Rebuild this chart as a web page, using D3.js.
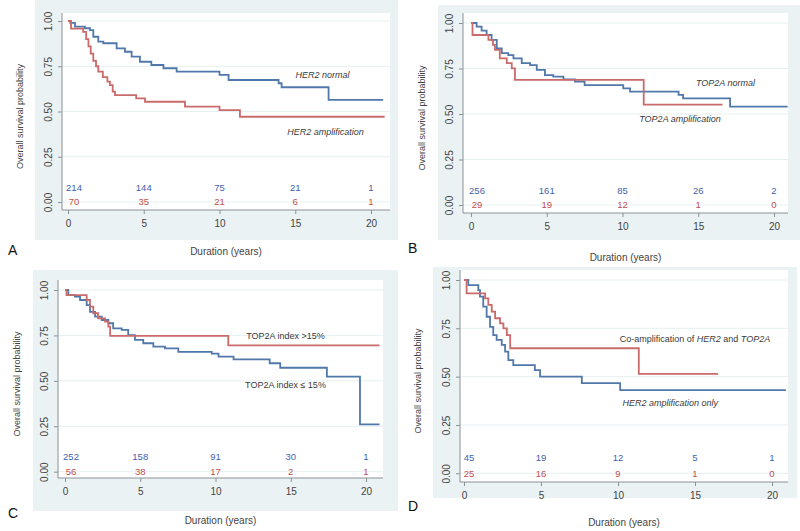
<!DOCTYPE html>
<html>
<head>
<meta charset="utf-8">
<script src="https://cdnjs.cloudflare.com/ajax/libs/d3/7.8.5/d3.min.js"></script>
<style>
  body { margin: 0; background: #fff; }
  svg { display: block; font-family: "Liberation Sans", Arial, sans-serif; }
</style>
</head>
<body>
<div id="chart"></div>
<script>
// Kaplan-Meier curves, [time (years), survival after that time]
var herNormal = [[0,1],[0.15,0.99],[0.46,0.969],[1.12,0.96],[1.45,0.95],[1.67,0.913],[2.0,0.886],[2.33,0.877],[3.21,0.849],[3.76,0.83],[4.2,0.803],[4.75,0.775],[5.5,0.757],[6.3,0.739],[7.17,0.72],[10.0,0.702],[10.6,0.674],[13.9,0.656],[14.1,0.634],[17.2,0.564],[20.8,0.564]];
var herAmp = [[0,1],[0.2,0.958],[1.0,0.94],[1.2,0.9],[1.35,0.86],[1.5,0.82],[1.67,0.78],[1.85,0.75],[2.0,0.72],[2.3,0.69],[2.6,0.665],[2.77,0.646],[2.95,0.61],[3.1,0.59],[4.5,0.572],[5.08,0.554],[7.72,0.527],[10.0,0.508],[11.35,0.471],[20.9,0.471]];

var top2aNormal = [[0,1],[0.37,0.98],[0.7,0.958],[1.03,0.934],[1.36,0.907],[1.7,0.861],[2.03,0.834],[2.46,0.824],[2.8,0.806],[3.35,0.779],[3.9,0.769],[4.34,0.742],[4.88,0.714],[5.43,0.705],[6.1,0.69],[6.86,0.678],[7.5,0.659],[10.05,0.641],[10.5,0.623],[13.7,0.605],[14.0,0.586],[17.1,0.54],[20.9,0.54]];
var top2aAmp = [[0,1],[0.1,0.934],[1.15,0.907],[1.45,0.88],[1.58,0.852],[1.9,0.806],[2.36,0.779],[2.69,0.751],[2.9,0.687],[11.4,0.552],[16.6,0.552]];

var top2aLow = [[0,1],[0.22,0.972],[0.66,0.963],[1.0,0.945],[1.44,0.917],[1.66,0.88],[2.0,0.853],[2.44,0.835],[2.88,0.817],[3.2,0.789],[3.77,0.78],[4.2,0.752],[4.65,0.725],[5.2,0.707],[5.87,0.688],[6.64,0.679],[7.53,0.66],[9.75,0.65],[10.2,0.633],[11.2,0.618],[13.6,0.597],[14.3,0.572],[17.4,0.523],[19.6,0.261],[20.9,0.261]];
var top2aHigh = [[0,1],[0.1,0.972],[1.44,0.945],[1.66,0.908],[1.88,0.872],[2.2,0.844],[2.66,0.826],[2.88,0.798],[3.0,0.748],[10.85,0.695],[20.9,0.695]];

var herOnly = [[0,1],[0.28,0.974],[0.93,0.948],[1.04,0.914],[1.25,0.862],[1.47,0.81],[1.69,0.758],[1.9,0.715],[2.12,0.69],[2.45,0.664],[2.67,0.629],[2.88,0.586],[3.2,0.56],[4.6,0.534],[4.94,0.5],[7.65,0.466],[10.14,0.43],[20.9,0.43]];
var coAmp = [[0,1],[0.17,0.931],[1.37,0.905],[1.58,0.871],[1.8,0.836],[2.02,0.802],[2.34,0.776],[2.56,0.75],[2.78,0.715],[3.0,0.647],[11.35,0.514],[16.5,0.514]];

// Number at risk
var riskTimes = [0, 5, 10, 15, 20];
var riskA = [[214, 144, 75, 21, 1], [70, 35, 21, 6, 1]];
var riskB = [[256, 161, 85, 26, 2], [29, 19, 12, 1, 0]];
var riskC = [[252, 158, 91, 30, 1], [56, 38, 17, 2, 1]];
var riskD = [[45, 19, 12, 5, 1], [25, 16, 9, 1, 0]];

// Axis ticks and titles
var xTicks = [0, 5, 10, 15, 20];
var yTicks = [0, 0.25, 0.5, 0.75, 1];
var xTitle = "Duration (years)";
var yTitle = "Overall survival probability";

// Curve labels (blue curve first, then red): pieces of text, italic or not
var labelsA = [[{t: "HER2 normal", i: true}], [{t: "HER2 amplification", i: true}]];
var labelsB = [[{t: "TOP2A normal", i: true}], [{t: "TOP2A amplification", i: true}]];
var labelsC = [[{t: "TOP2A index \u2264 15%", i: false}], [{t: "TOP2A index >15%", i: false}]];
var labelsD = [[{t: "HER2 amplification only", i: true}],
               [{t: "Co-amplification of ", i: false}, {t: "HER2", i: true}, {t: " and ", i: false}, {t: "TOP2A", i: true}]];

var blue = "#5078ab", red = "#c96a6b";
var blueText = "#3f5fae", redText = "#c0504d";

var svg = d3.select("#chart").append("svg")
  .attr("width", 800)
  .attr("height", 531);

var panels = [
  { letter: "A", bg: [35, 0, 398, 240], plot: [62, 13, 390, 210], x0: 68, x20: 371, y1: 21, y0: 202,
    blueData: herNormal, redData: herAmp, risk: riskA, labels: labelsA,
    labelPos: [[16.8, 0.70], [17.0, 0.387]], riskShift: 6,
    yTitleX: 20, xTitleY: 251, letterPos: [8, 255] },
  { letter: "B", bg: [438, 5, 800, 240], plot: [463, 13, 788, 213], x0: 471, x20: 774, y1: 23, y0: 205,
    blueData: top2aNormal, redData: top2aAmp, risk: riskB, labels: labelsB,
    labelPos: [[16.8, 0.67], [13.8, 0.473]], riskShift: 6,
    yTitleX: 422, xTitleY: 257, letterPos: [408, 253] },
  { letter: "C", bg: [33, 270, 398, 511], plot: [58, 280, 383, 478], x0: 65, x20: 366, y1: 290, y0: 471.7,
    blueData: top2aLow, redData: top2aHigh, risk: riskC, labels: labelsC,
    labelPos: [[14.65, 0.477], [14.65, 0.747]], riskShift: 6,
    yTitleX: 17, xTitleY: 520, letterPos: [8, 518] },
  { letter: "D", bg: [433, 267, 797, 498], plot: [460, 270, 788, 482], x0: 464, x20: 772, y1: 280, y0: 473.3,
    blueData: herOnly, redData: coAmp, risk: riskD, labels: labelsD,
    labelPos: [[13.4, 0.364], [15.0, 0.695]], riskShift: 5,
    yTitleX: 418, xTitleY: 522, letterPos: [408, 511] }
];

panels.forEach(drawPanel);

function drawPanel(p) {
  var x = d3.scaleLinear().domain([0, 20]).range([p.x0, p.x20]);
  var y = d3.scaleLinear().domain([0, 1]).range([p.y0, p.y1]);

  // Graph region and white plot region
  svg.append("rect")
    .attr("x", p.bg[0]).attr("y", p.bg[1])
    .attr("width", p.bg[2] - p.bg[0]).attr("height", p.bg[3] - p.bg[1])
    .style("fill", "#eaf2f4");
  svg.append("rect")
    .attr("x", p.plot[0]).attr("y", p.plot[1])
    .attr("width", p.plot[2] - p.plot[0]).attr("height", p.plot[3] - p.plot[1])
    .style("fill", "#fff");

  // Grid lines
  svg.append("g").selectAll("line")
    .data(yTicks)
    .enter()
    .append("line")
    .attr("x1", p.plot[0]).attr("x2", p.plot[2])
    .attr("y1", function(d) { return y(d); })
    .attr("y2", function(d) { return y(d); })
    .style("stroke", "#e6eff1")
    .style("stroke-width", "1px");

  // Axes
  var yAxis = svg.append("g")
    .attr("transform", "translate(" + p.plot[0] + ",0)")
    .call(d3.axisLeft(y).tickValues(yTicks).tickFormat(d3.format(".2f")).tickSize(4).tickSizeOuter(0));
  yAxis.select(".domain").attr("d", "M0," + p.plot[1] + "V" + p.plot[3]);
  yAxis.selectAll("text")
    .attr("transform", "rotate(-90)")
    .attr("x", 0).attr("y", -10).attr("dy", 0)
    .attr("text-anchor", "middle")
    .style("font-size", "10px")
    .style("fill", "#444");

  var xAxis = svg.append("g")
    .attr("transform", "translate(0," + p.plot[3] + ")")
    .call(d3.axisBottom(x).tickValues(xTicks).tickSize(4).tickPadding(6).tickSizeOuter(0));
  xAxis.select(".domain").attr("d", "M" + p.plot[0] + ",0H" + p.plot[2]);
  xAxis.selectAll("text")
    .style("font-size", "10px")
    .style("fill", "#444");

  svg.selectAll(".domain, .tick line")
    .style("stroke", "#8a9296");

  // Survival curves
  var line = d3.line()
    .x(function(d) { return x(d[0]); })
    .y(function(d) { return y(d[1]); })
    .curve(d3.curveStepAfter);

  svg.append("path")
    .datum(p.blueData)
    .attr("d", line)
    .style("fill", "none")
    .style("stroke", blue)
    .style("stroke-width", "1.8px");
  svg.append("path")
    .datum(p.redData)
    .attr("d", line)
    .style("fill", "none")
    .style("stroke", red)
    .style("stroke-width", "1.8px");

  // Number at risk rows
  [[p.risk[0], 0.08, blueText], [p.risk[1], 0.0, redText]].forEach(function(row) {
    svg.append("g").selectAll("text")
      .data(row[0])
      .enter()
      .append("text")
      .attr("x", function(d, i) { return x(riskTimes[i]) + (i === 0 ? p.riskShift : 0); })
      .attr("y", y(row[1]))
      .attr("dy", "0.35em")
      .attr("text-anchor", "middle")
      .style("font-size", "9.5px")
      .style("fill", row[2])
      .text(function(d) { return d; });
  });

  // Curve labels
  p.labels.forEach(function(parts, k) {
    var t = svg.append("text")
      .attr("x", x(p.labelPos[k][0]))
      .attr("y", y(p.labelPos[k][1]))
      .attr("dy", "0.35em")
      .attr("text-anchor", "middle")
      .style("font-size", "9px")
      .style("fill", "#3a3a3a");
    parts.forEach(function(s) {
      t.append("tspan")
        .style("font-style", s.i ? "italic" : "normal")
        .text(s.t);
    });
  });

  // Titles and panel letter
  svg.append("text")
    .attr("transform", "translate(" + p.yTitleX + "," + ((p.plot[1] + p.plot[3]) / 2 + 5) + ") rotate(-90)")
    .attr("text-anchor", "middle")
    .attr("dy", "0.35em")
    .style("font-size", "9px")
    .style("fill", "#444")
    .text(yTitle);
  svg.append("text")
    .attr("x", (p.plot[0] + p.plot[2]) / 2)
    .attr("y", p.xTitleY)
    .attr("dy", "0.35em")
    .attr("text-anchor", "middle")
    .style("font-size", "10px")
    .style("fill", "#444")
    .text(xTitle);
  svg.append("text")
    .attr("x", p.letterPos[0])
    .attr("y", p.letterPos[1])
    .style("font-size", "14px")
    .style("fill", "#111")
    .text(p.letter);
}
</script>
</body>
</html>
